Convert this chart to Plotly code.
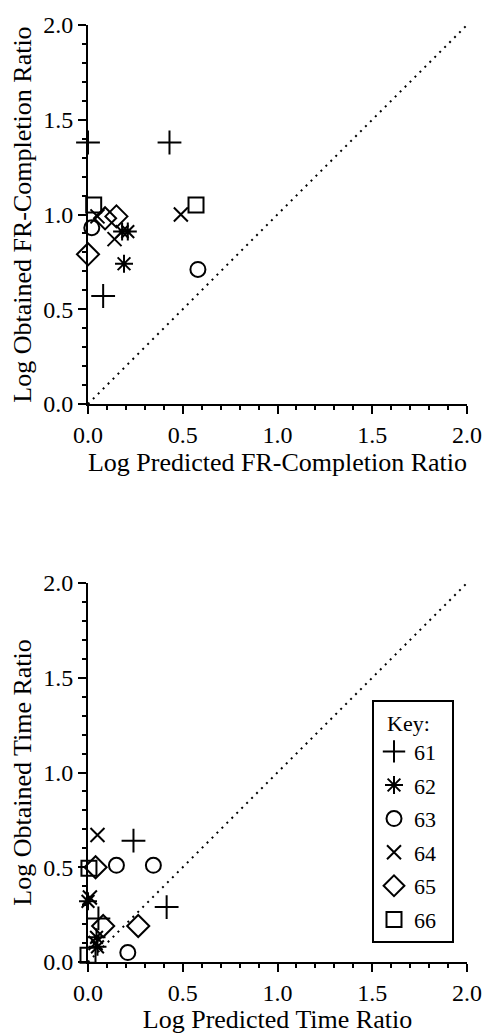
import plotly.graph_objects as go

subjects = ["61", "62", "63", "64", "65", "66"]
symbols = ["cross-thin-open", "asterisk-open", "circle-open", "x-thin-open", "diamond-open", "square-open"]
sizes = [17, 15, 15, 14, 17, 15]

# Top panel: FR-completion ratios (log)
fr_pred = {
    "61": [0.0, 0.43, 0.08],
    "62": [0.18, 0.21, 0.19],
    "63": [-0.02, 0.02, 0.58],
    "64": [0.05, 0.14, 0.49],
    "65": [0.0, 0.09, 0.15],
    "66": [0.03, 0.57],
}
fr_obt = {
    "61": [1.38, 1.38, 0.57],
    "62": [0.91, 0.91, 0.74],
    "63": [1.01, 0.93, 0.71],
    "64": [0.99, 0.87, 1.00],
    "65": [0.79, 0.98, 0.99],
    "66": [1.05, 1.05],
}

# Bottom panel: time ratios (log)
t_pred = {
    "61": [0.24, 0.415, 0.055],
    "62": [0.0, 0.045, 0.05],
    "63": [0.15, 0.345, 0.21],
    "64": [0.05, 0.01, 0.04],
    "65": [0.04, 0.08, 0.265],
    "66": [0.005, 0.0],
}
t_obt = {
    "61": [0.64, 0.29, 0.23],
    "62": [0.32, 0.13, 0.08],
    "63": [0.51, 0.51, 0.05],
    "64": [0.67, 0.34, 0.10],
    "65": [0.50, 0.19, 0.19],
    "66": [0.495, 0.035],
}

identity = [0.0, 2.0]
tick_vals = [0.0, 0.5, 1.0, 1.5, 2.0]
tick_text = ["0.0", "0.5", "1.0", "1.5", "2.0"]

FONT = "Liberation Serif, Times New Roman, serif"

fig = go.Figure()

for panel, (xs, ys, xa, ya) in enumerate([(fr_pred, fr_obt, "x", "y"), (t_pred, t_obt, "x2", "y2")]):
    fig.add_trace(go.Scatter(
        x=identity, y=identity, mode="lines", xaxis=xa, yaxis=ya,
        line=dict(color="black", width=2, dash="2px,5px"),
        showlegend=False, hoverinfo="skip"))
    for s, sym, sz in zip(subjects, symbols, sizes):
        fig.add_trace(go.Scatter(
            x=xs[s], y=ys[s], mode="markers", xaxis=xa, yaxis=ya,
            name=s + "  ", legendgroup=s, showlegend=(panel == 1),
            cliponaxis=False,
            marker=dict(symbol=sym, size=sz, color="black",
                        line=dict(color="black", width=2))))

axis_common = dict(
    range=[0, 2], showgrid=False, zeroline=False, showline=True,
    linecolor="black", linewidth=2, mirror=False, automargin=False,
    ticks="outside", ticklen=8, tickwidth=2, tickcolor="black",
    tickvals=tick_vals, ticktext=tick_text,
    minor=dict(dtick=0.1, tick0=0, ticks="outside", ticklen=4, tickwidth=2, tickcolor="black", showgrid=False),
    tickfont=dict(family=FONT, size=24, color="black"),
    fixedrange=True,
)

W, H = 485, 1034
xdom = [88 / W, 467 / W]
ydom_top = [1 - 404 / H, 1 - 25 / H]
ydom_bot = [1 - 962 / H, 1 - 583 / H]

title_font = dict(family=FONT, size=26, color="black")

fig.update_layout(
    width=W, height=H,
    margin=dict(l=0, r=0, t=0, b=0),
    paper_bgcolor="white", plot_bgcolor="white",
    xaxis=dict(axis_common, domain=xdom, anchor="y",
               title=dict(text="Log Predicted FR-Completion Ratio", font=title_font, standoff=4)),
    yaxis=dict(axis_common, domain=ydom_top, anchor="x",
               title=dict(text="Log Obtained FR-Completion Ratio", font=title_font, standoff=4)),
    xaxis2=dict(axis_common, domain=xdom, anchor="y2",
                title=dict(text="Log Predicted Time Ratio", font=title_font, standoff=4)),
    yaxis2=dict(axis_common, domain=ydom_bot, anchor="x2",
                title=dict(text="Log Obtained Time Ratio", font=title_font, standoff=4)),
    legend=dict(
        x=372 / W, y=1 - 700 / H, xanchor="left", yanchor="top",
        bgcolor="white", bordercolor="black", borderwidth=2,
        font=dict(family=FONT, size=22, color="black"),
        title=dict(text="  Key:", font=dict(family=FONT, size=22, color="black")),
        itemwidth=30, tracegroupgap=2, traceorder="grouped",
    ),
    showlegend=True,
)

fig.write_html(
    "out.html",
    config={"displayModeBar": False},
    post_script="document.body.style.margin='0';document.body.style.overflow='hidden';",
)
